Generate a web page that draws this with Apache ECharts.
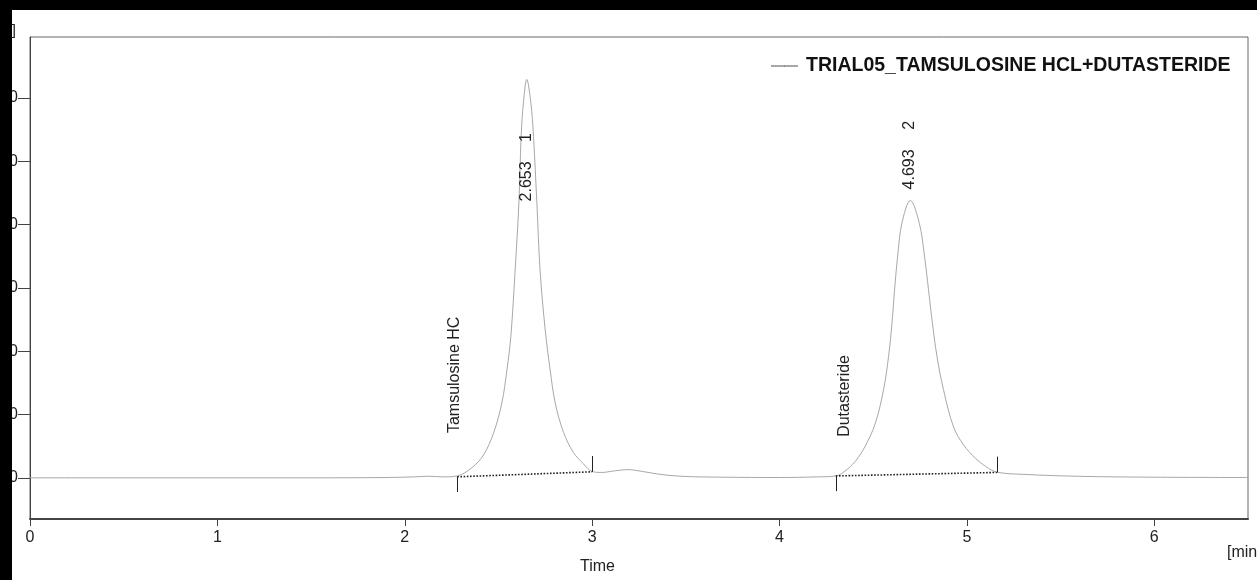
<!DOCTYPE html>
<html>
<head>
<meta charset="utf-8">
<script src="https://cdn.jsdelivr.net/npm/echarts@6/dist/echarts.min.js"></script>
<style>
html, body { margin: 0; padding: 0; background: #fff; }
#chart { width: 1257px; height: 580px; }
</style>
</head>
<body>
<div id="chart"></div>
<script>
// chromatogram trace (time in min, signal)
var timeMin = [0, 0.5, 1.0, 1.5, 1.9, 2.05, 2.13, 2.2, 2.28, 2.358, 2.42, 2.473, 2.518, 2.545, 2.566, 2.589, 2.609, 2.621, 2.633, 2.651,
    2.673, 2.687, 2.705, 2.722, 2.749, 2.776, 2.803, 2.847, 2.90, 2.954, 3.0, 3.05, 3.12, 3.19, 3.27, 3.35, 3.47, 3.7, 4.0, 4.2, 4.30,
    4.342, 4.404, 4.457, 4.511, 4.555, 4.582, 4.60, 4.614, 4.63, 4.653, 4.698, 4.746, 4.774, 4.795, 4.816, 4.84, 4.875, 4.929,
    4.982, 5.045, 5.10, 5.16, 5.3, 5.6, 6.0, 6.5];
var signal = [0, 0, 0, 0, 0.05, 0.15, 0.25, 0.15, 0.3, 1.6, 3.6, 7.0, 11.8, 17.0, 22.3, 32.8, 43.4, 53.9, 59.2, 62.9,
    59.2, 53.9, 43.4, 32.8, 23.5, 17.0, 11.8, 7.2, 4.0, 2.2, 1.0, 0.85, 1.1, 1.3, 1.0, 0.6, 0.25, 0.1, 0.05, 0.15, 0.3,
    0.9, 2.6, 5.0, 8.6, 13.9, 19.2, 24.4, 29.7, 34.9, 40.2, 43.8, 40.2, 34.9, 29.7, 24.4, 19.2, 13.9, 8.0,
    5.2, 3.1, 1.8, 0.9, 0.55, 0.24, 0.1, 0.05];

var seriesName = 'TRIAL05_TAMSULOSINE HCL+DUTASTERIDE';
var xTicks = [0, 1, 2, 3, 4, 5, 6];
var yTicks = [0, 10, 20, 30, 40, 50, 60];

// peaks
var peakTimes = [2.653, 4.693];
var peakHeights = [62.9, 43.8];
var peakNumbers = ['1', '2'];
var compoundNames = ['Tamsulosine HC', 'Dutasteride'];

// integration baselines
var integStart = [2.28, 4.30];
var integStartLevel = [0.16, 0.3];
var integEnd = [3.0, 5.16];
var integEndLevel = [0.95, 0.85];

var tickDown = 2.4;
var tickUp = 2.5;

var trace = [];
for (var i = 0; i < timeMin.length; i++) {
    trace.push([timeMin[i], signal[i]]);
}

var lineMarks = [];
for (var k = 0; k < integStart.length; k++) {
    lineMarks.push([
        {coord: [integStart[k], integStartLevel[k]], lineStyle: {type: 'dotted', width: 1.6, color: '#222'}},
        {coord: [integEnd[k], integEndLevel[k]]}
    ]);
    lineMarks.push([
        {coord: [integStart[k], integStartLevel[k]], lineStyle: {type: 'solid', width: 1, color: '#222'}},
        {coord: [integStart[k], integStartLevel[k] - tickDown]}
    ]);
    lineMarks.push([
        {coord: [integEnd[k], integEndLevel[k]], lineStyle: {type: 'solid', width: 1, color: '#222'}},
        {coord: [integEnd[k], integEndLevel[k] + tickUp]}
    ]);
}

// rotated labels: offset is in the rotated frame, [-dy, dx] on screen
var txt = {show: true, rotate: 90, color: '#222', fontSize: 16, fontFamily: 'Liberation Sans', position: 'inside'};
function lbl(coord, text, dx, dy) {
    return {
        coord: coord,
        label: Object.assign({}, txt, {formatter: text, offset: [-dy, dx]})
    };
}
var pointMarks = [
    lbl([peakTimes[0], peakHeights[0]], peakTimes[0].toFixed(3), -1, 102),
    lbl([peakTimes[0], peakHeights[0]], peakNumbers[0], -1, 58),
    lbl([peakTimes[1], peakHeights[1]], peakTimes[1].toFixed(3), 0, -31),
    lbl([peakTimes[1], peakHeights[1]], peakNumbers[1], 0, -75),
    lbl([integStart[0], integStartLevel[0]], compoundNames[0], -3, -102),
    lbl([integStart[1], integStartLevel[1]], compoundNames[1], 9, -80)
];

var chart = echarts.init(document.getElementById('chart'));
chart.setOption({
    animation: false,
    backgroundColor: '#fff',
    textStyle: {fontFamily: 'Liberation Sans'},
    grid: {left: 30, right: 9, top: 37, bottom: 61, show: true, borderColor: '#666', borderWidth: 1,
        containLabel: false, outerBoundsMode: 'none'},
    legend: {
        data: [{name: seriesName, itemStyle: {color: '#333'}}],
        left: 770, top: 56,
        orient: 'horizontal',
        padding: 0,
        itemWidth: 27, itemHeight: 1, itemGap: 8,
        textStyle: {fontSize: 19.5, fontWeight: 'bold', color: '#111', fontFamily: 'Liberation Sans', padding: [0, 0, 0, 3]}
    },
    xAxis: {
        type: 'value', min: 0, max: 6.5,
        axisLine: {show: true, onZero: false, lineStyle: {color: '#444', width: 2}},
        axisTick: {show: true, length: 7, customValues: xTicks, lineStyle: {color: '#444'}},
        axisLabel: {customValues: xTicks, margin: 11, fontSize: 16, color: '#222', fontFamily: 'Liberation Sans'},
        splitLine: {show: false}
    },
    yAxis: {
        type: 'value', min: -6.5, max: 69.6,
        axisLine: {show: true, onZero: false, lineStyle: {color: '#444', width: 1}},
        axisTick: {show: true, length: 12, customValues: yTicks, lineStyle: {color: '#444'}},
        axisLabel: {customValues: yTicks, margin: 12, fontSize: 16, color: '#222', fontFamily: 'Liberation Sans'},
        splitLine: {show: false}
    },
    graphic: [
        {type: 'text', left: 580, top: 559, style: {text: 'Time', fontSize: 16, fill: '#222', fontFamily: 'Liberation Sans'}},
        {type: 'text', left: 1227, top: 545, style: {text: '[min]', fontSize: 16, fill: '#222', fontFamily: 'Liberation Sans'}},
        {type: 'text', left: -15, top: 23, style: {text: '[mV]', fontSize: 15, fill: '#222', fontFamily: 'Liberation Sans'}},
        {type: 'rect', left: 0, top: 0, z: 100, shape: {width: 12, height: 580}, style: {fill: '#000'}},
        {type: 'rect', left: 0, top: 0, z: 100, shape: {width: 1257, height: 10}, style: {fill: '#000'}}
    ],
    series: [{
        type: 'line',
        name: seriesName,
        data: trace,
        symbol: 'none',
        legendIcon: 'rect',
        smooth: 0.35,
        lineStyle: {color: '#a8a8a8', width: 1},
        itemStyle: {color: '#a8a8a8'},
        markLine: {
            silent: true, symbol: 'none', animation: false,
            label: {show: false},
            data: lineMarks
        },
        markPoint: {
            silent: true, animation: false,
            symbol: 'circle', symbolSize: 1,
            itemStyle: {color: 'rgba(0,0,0,0)'},
            data: pointMarks
        }
    }]
});
</script>
</body>
</html>
